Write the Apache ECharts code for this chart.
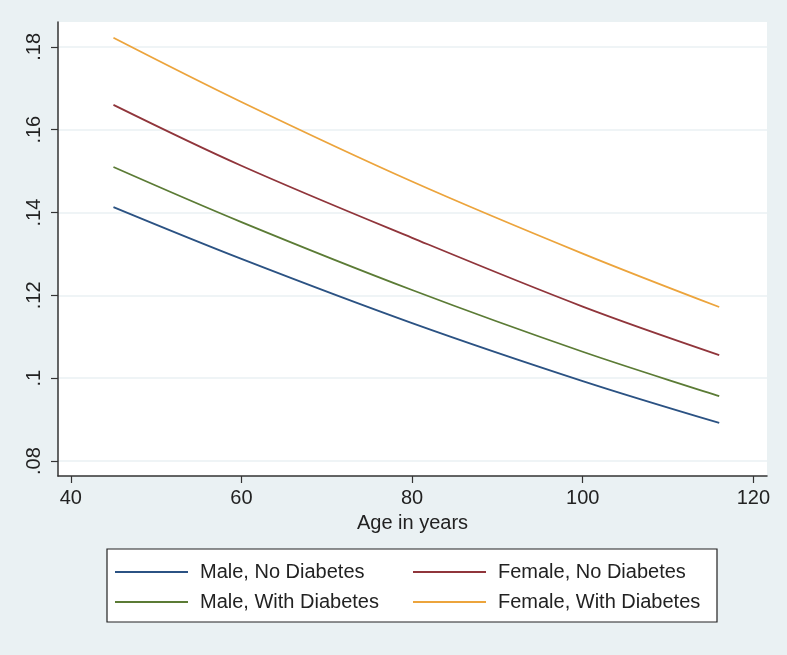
<!DOCTYPE html>
<html>
<head>
<meta charset="utf-8">
<script src="https://cdn.jsdelivr.net/npm/echarts@6/dist/echarts.min.js"></script>
<style>
html,body{margin:0;padding:0;background:#eaf1f3;}
#c{width:787px;height:655px;}
</style>
</head>
<body>
<div id="c"></div>
<script>
var ages = [45, 60, 80, 100, 116];
var maleNoDiab = [0.1413, 0.1288, 0.1133, 0.0993, 0.0892];
var femaleNoDiab = [0.1660, 0.1513, 0.1339, 0.1173, 0.1056];
var maleDiab = [0.1510, 0.1377, 0.1213, 0.1064, 0.0957];
var femaleDiab = [0.1822, 0.1667, 0.1475, 0.1301, 0.1172];
var xTicks = [40, 60, 80, 100, 120];
var yTicks = [0.08, 0.10, 0.12, 0.14, 0.16, 0.18];
var names = ['Male, No Diabetes', 'Female, No Diabetes', 'Male, With Diabetes', 'Female, With Diabetes'];
var colors = ['#2b5283', '#90353b', '#5b7b35', '#eca43c'];
var seriesData = [maleNoDiab, femaleNoDiab, maleDiab, femaleDiab];

function pairs(ys){ return ages.map(function(a,i){ return [a, ys[i]]; }); }
function fmtY(v){ return String(+(+v).toFixed(2)).replace(/^0/, ''); }

var font = 'Liberation Sans, Arial, Helvetica, sans-serif';
var chart = echarts.init(document.getElementById('c'), null, {renderer:'canvas'});

var legendPos = [
  {left:115, top:562},
  {left:413, top:562},
  {left:115, top:592},
  {left:413, top:592}
];

var option = {
  backgroundColor: '#eaf1f3',
  animation: false,
  grid: {left:58, right:20, top:22, bottom:179, show:true, backgroundColor:'#ffffff', borderWidth:0},
  xAxis: {
    type:'value', min:38.5, max:121.6,
    name:'Age in years', nameLocation:'middle', nameGap:37,
    nameTextStyle:{fontFamily:font, fontSize:20, color:'#222'},
    axisLine:{show:true, lineStyle:{color:'#333', width:1.5}},
    axisTick:{show:true, length:7, customValues:xTicks, lineStyle:{color:'#333', width:1.2}},
    axisLabel:{customValues:xTicks, fontFamily:font, fontSize:20, color:'#222', margin:12},
    splitLine:{show:false}
  },
  yAxis: {
    type:'value', min:0.0764, max:0.186,
    axisLine:{show:true, lineStyle:{color:'#333', width:1.5}},
    axisTick:{show:true, length:7, customValues:yTicks, lineStyle:{color:'#333', width:1.2}},
    axisLabel:{customValues:yTicks, rotate:90, fontFamily:font, fontSize:20, color:'#222', margin:14, formatter:fmtY},
    splitLine:{show:true, customValues:yTicks, lineStyle:{color:'#eaf1f3', width:1.5}}
  },
  graphic: {elements:[{type:'rect', z:1, shape:{x:107, y:549, width:610, height:73}, style:{fill:'#fff', stroke:'#222', lineWidth:1.2}}]},
  legend: names.map(function(n,i){
    return {data:[n], left:legendPos[i].left, top:legendPos[i].top, padding:0, z:10, icon:'rect', itemWidth:73, itemHeight:2, itemGap:0,
      textStyle:{fontFamily:font, fontSize:20, color:'#222', padding:[0,0,0,7]}, selectedMode:false};
  }),
  series: names.map(function(n,i){
    return {name:n, type:'line', data:pairs(seriesData[i]), showSymbol:false, symbol:'none', smooth:0.35,
      lineStyle:{color:colors[i], width:1.8}, itemStyle:{color:colors[i]}};
  })
};
chart.setOption(option);
</script>
</body>
</html>
